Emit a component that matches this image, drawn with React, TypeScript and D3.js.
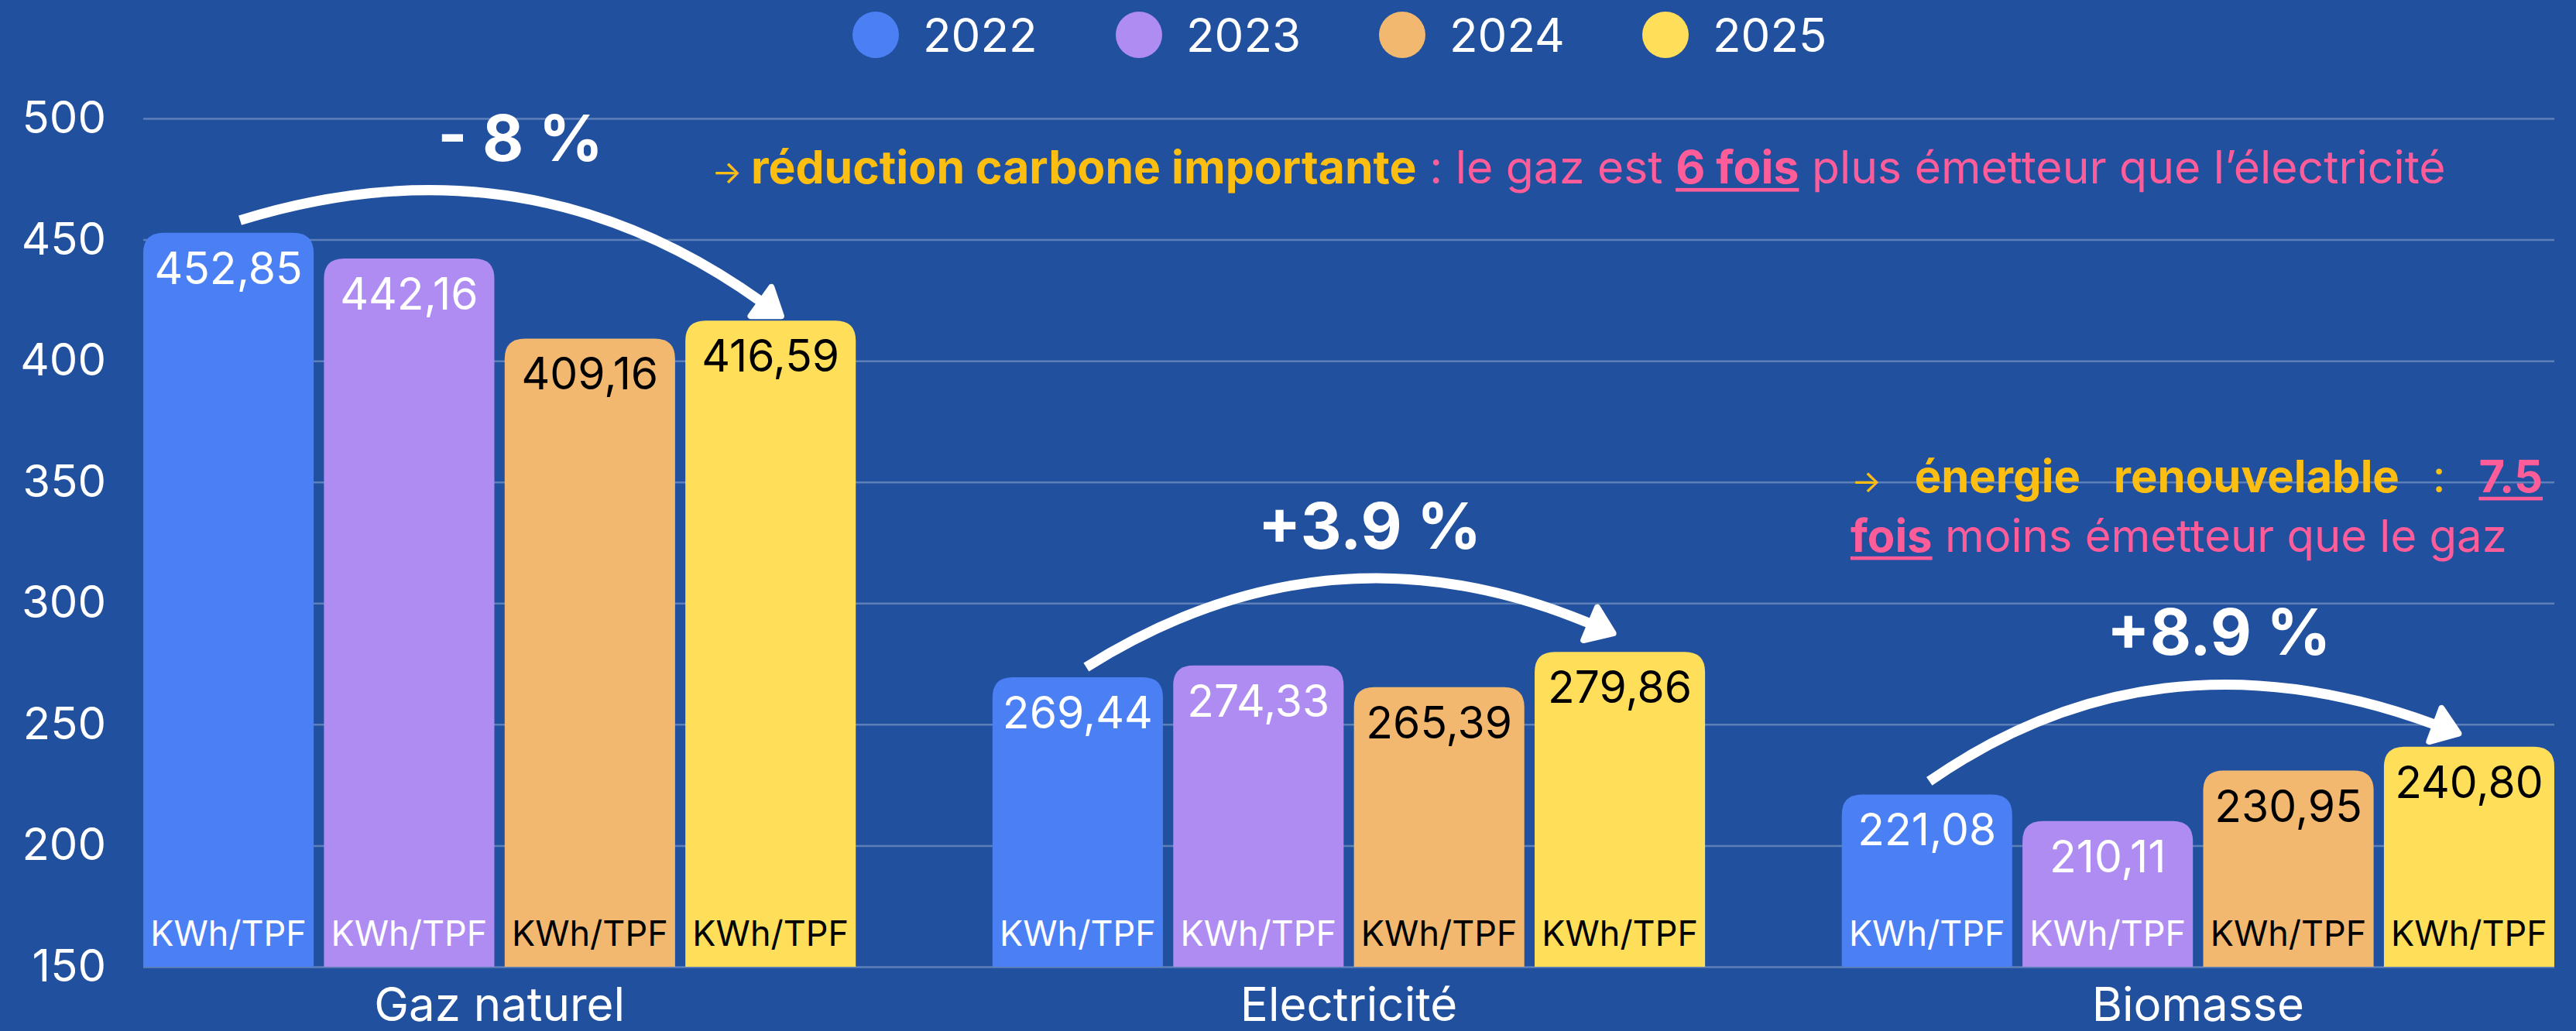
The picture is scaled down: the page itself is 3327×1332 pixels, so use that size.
import * as d3 from "d3";
import { useEffect, useRef } from "react";

const categories = ["Gaz naturel", "Electricité", "Biomasse"];
const years = ["2022", "2023", "2024", "2025"];
const values2022 = [452.85, 269.44, 221.08];
const values2023 = [442.16, 274.33, 210.11];
const values2024 = [409.16, 265.39, 230.95];
const values2025 = [416.59, 279.86, 240.8];
const yTicks = [150, 200, 250, 300, 350, 400, 450, 500];
const changeLabels = ["- 8 %", "+3.9 %", "+8.9 %"];
const unitLabel = "KWh/TPF";

const W = 3327;
const H = 1332;
const BG = "#21509F";
const COLORS = ["#4B80F5", "#AE8CF2", "#F2B86F", "#FFDE5A"];
const LABEL_FILL = ["#ffffff", "#ffffff", "#000000", "#000000"];
const YELLOW = "#FDBE12";
const PINK = "#FF5C9A";
const FONT = "Inter, 'Noto Sans', sans-serif";

// arrow placement, per category (offsets from first / last bar tops)
const arrowTailDx = [15, 11, 3];
const arrowTailDy = [-16, -13, -17];
const arrowTipDx = [13, -9, -14];
const arrowTipDy = [-5, -23, -16];
const arrowLift = [39, 115, 125];
const arrowPeakAt = [0.35, 0.55, 0.56];

type Pt = [number, number];

// control point of a quadratic curve p0 -> p2 whose top sits at (peakX, peakY)
function arcControl(p0: Pt, p2: Pt, peakY: number, peakX: number): Pt {
	const a = p0[1] - peakY;
	const b = p2[1] - peakY;
	const cy = peakY - Math.sqrt(Math.max(a * b, 0));
	const t = (p0[1] - cy) / (p0[1] + p2[1] - 2 * cy);
	const cx = (peakX - (1 - t) ** 2 * p0[0] - t * t * p2[0]) / (2 * t * (1 - t));
	return [cx, cy];
}

function unit(from: Pt, to: Pt): Pt {
	const dx = to[0] - from[0];
	const dy = to[1] - from[1];
	const n = Math.hypot(dx, dy) || 1;
	return [dx / n, dy / n];
}

function topRoundedBar(x: number, y: number, w: number, h: number, r: number) {
	const rr = Math.min(r, h, w / 2);
	return `M${x},${y + h}V${y + rr}Q${x},${y} ${x + rr},${y}H${x + w - rr}Q${x + w},${y} ${x + w},${y + rr}V${y + h}Z`;
}

export default function App() {
	const svgRef = useRef<SVGSVGElement>(null);

	useEffect(() => {
		document.body.style.margin = "0";
		if (!svgRef.current) return;
		const svg = d3.select(svgRef.current);
		svg.selectAll("*").remove();

		svg.append("rect").attr("width", W).attr("height", H).attr("fill", BG);

		const series = [values2022, values2023, values2024, values2025];

		const x0 = d3
			.scaleBand<string>()
			.domain(categories)
			.range([185, 3299])
			.paddingInner(0.161)
			.paddingOuter(0);
		const x1 = d3
			.scaleBand<string>()
			.domain(years)
			.range([0, x0.bandwidth()])
			.paddingInner(0.057);
		const y = d3.scaleLinear().domain([150, 500]).range([1249, 153]);
		const base = y(150);

		// grid + y labels
		const yAxis = svg
			.append("g")
			.attr("transform", `translate(185,0)`)
			.call(
				d3
					.axisLeft(y)
					.tickValues(yTicks)
					.tickSizeInner(-(3299 - 185))
					.tickSizeOuter(0)
					.tickPadding(48),
			);
		yAxis.select(".domain").remove();
		yAxis
			.selectAll(".tick line")
			.attr("stroke", "rgba(255,255,255,0.28)")
			.attr("stroke-width", 2.5);
		yAxis
			.selectAll(".tick text")
			.attr("fill", "#ffffff")
			.style("font-family", FONT)
			.style("font-size", "58px");

		// category labels
		const xAxis = svg
			.append("g")
			.attr("transform", `translate(0,${base})`)
			.call(d3.axisBottom(x0).tickSize(0).tickPadding(27));
		xAxis.select(".domain").remove();
		xAxis
			.selectAll(".tick text")
			.attr("fill", "#ffffff")
			.style("font-family", FONT)
			.style("font-size", "60px");

		// bars
		categories.forEach((cat, i) => {
			const g = svg.append("g").attr("transform", `translate(${x0(cat)},0)`);
			years.forEach((yr, j) => {
				const v = series[j][i];
				const bx = x1(yr) ?? 0;
				const bw = x1.bandwidth();
				const top = y(v);
				g.append("path")
					.attr("d", topRoundedBar(bx, top, bw, base - top, 26))
					.attr("fill", COLORS[j]);
				g.append("text")
					.attr("x", bx + bw / 2)
					.attr("y", top + 66)
					.attr("text-anchor", "middle")
					.attr("fill", LABEL_FILL[j])
					.style("font-family", FONT)
					.style("font-size", "57px")
					.text(d3.format(".2f")(v).replace(".", ","));
				g.append("text")
					.attr("x", bx + bw / 2)
					.attr("y", base - 27)
					.attr("text-anchor", "middle")
					.attr("fill", LABEL_FILL[j])
					.style("font-family", FONT)
					.style("font-size", "45px")
					.text(unitLabel);
			});
		});

		// curved arrows + change labels
		categories.forEach((cat, i) => {
			const gx = x0(cat) ?? 0;
			const bw = x1.bandwidth();
			const firstC = gx + (x1(years[0]) ?? 0) + bw / 2;
			const lastC = gx + (x1(years[3]) ?? 0) + bw / 2;
			const tail: Pt = [firstC + arrowTailDx[i], y(values2022[i]) + arrowTailDy[i]];
			const tip: Pt = [lastC + arrowTipDx[i], y(values2025[i]) + arrowTipDy[i]];
			const peakY = tail[1] - arrowLift[i];
			const peakX = tail[0] + arrowPeakAt[i] * (tip[0] - tail[0]);
			const L = 32;
			const hw = 23;
			const c0 = arcControl(tail, tip, peakY, peakX);
			const d0 = unit(c0, tip);
			const end: Pt = [tip[0] - L * d0[0], tip[1] - L * d0[1]];
			const c = arcControl(tail, end, peakY, peakX);
			const d = unit(c, end);
			const head: Pt = [end[0] + L * d[0], end[1] + L * d[1]];
			const perp: Pt = [-d[1], d[0]];

			svg.append("path")
				.attr("d", `M${tail[0]},${tail[1]}Q${c[0]},${c[1]} ${end[0]},${end[1]}`)
				.attr("fill", "none")
				.attr("stroke", "#ffffff")
				.attr("stroke-width", 13);
			svg.append("path")
				.attr(
					"d",
					`M${end[0] + hw * perp[0]},${end[1] + hw * perp[1]}L${head[0]},${head[1]}L${end[0] - hw * perp[0]},${end[1] - hw * perp[1]}Z`,
				)
				.attr("fill", "#ffffff")
				.attr("stroke", "#ffffff")
				.attr("stroke-width", 8)
				.attr("stroke-linejoin", "round");

			svg.append("text")
				.attr("x", gx + x0.bandwidth() / 2 + 27)
				.attr("y", peakY - 38)
				.attr("text-anchor", "middle")
				.attr("fill", "#ffffff")
				.style("font-family", FONT)
				.style("font-size", "82px")
				.style("font-weight", 700)
				.text(changeLabels[i]);
		});

		// legend
		const legend = svg.append("g");
		years.forEach((yr, j) => {
			const cx = 1131 + j * 340;
			legend.append("circle").attr("cx", cx).attr("cy", 45).attr("r", 30).attr("fill", COLORS[j]);
			legend
				.append("text")
				.attr("x", cx + 61)
				.attr("y", 67)
				.attr("fill", "#ffffff")
				.style("font-family", FONT)
				.style("font-size", "60px")
				.text(yr);
		});

		type Part = { t: string; fill: string; w: number; u?: boolean; small?: boolean };

		const underline = (node: SVGTSpanElement | SVGTextElement, yBase: number, fs: number, fill: string) => {
			const sx = node.getStartPositionOfChar(0).x;
			const w = node.getComputedTextLength();
			svg.append("rect")
				.attr("x", sx)
				.attr("y", yBase + fs * 0.1)
				.attr("width", w)
				.attr("height", fs * 0.08)
				.attr("fill", fill);
		};

		const addParts = (x: number, yb: number, fs: number, parts: Part[]) => {
			const t = svg
				.append("text")
				.attr("x", x)
				.attr("y", yb)
				.style("font-family", FONT)
				.style("font-size", `${fs}px`)
				.style("white-space", "pre");
			const spans = parts.map((p) =>
				t
					.append("tspan")
					.attr("fill", p.fill)
					.style("font-weight", p.w)
					.style("font-size", p.small ? "0.7em" : null)
					.text(p.t),
			);
			return { t, spans };
		};

		// note 1 – one line, fitted to its width
		const note1Parts: Part[] = [
			{ t: "→ ", fill: YELLOW, w: 400, small: true },
			{ t: "réduction carbone importante", fill: YELLOW, w: 700 },
			{ t: " : le gaz est ", fill: PINK, w: 400 },
			{ t: "6 fois", fill: PINK, w: 700, u: true },
			{ t: " plus émetteur que l’électricité", fill: PINK, w: 400 },
		];
		const n1 = addParts(919, 237, 57, note1Parts);
		const len1 = (n1.t.node() as SVGTextElement).getComputedTextLength();
		const fs1 = Math.min(60, (57 * (3159 - 919)) / len1);
		n1.t.style("font-size", `${fs1}px`);
		note1Parts.forEach((p, k) => {
			if (p.u) underline(n1.spans[k].node() as SVGTSpanElement, 237, fs1, p.fill);
		});

		// note 2 – second line sets the size, first line is justified
		const line2Parts: Part[] = [
			{ t: "fois", fill: PINK, w: 700, u: true },
			{ t: " moins émetteur que le gaz", fill: PINK, w: 400 },
		];
		const n2 = addParts(2390, 713, 55, line2Parts);
		const len2 = (n2.t.node() as SVGTextElement).getComputedTextLength();
		const fs2 = Math.min(58, (55 * (3256 - 2390)) / len2);
		n2.t.style("font-size", `${fs2}px`);
		underline(n2.spans[0].node() as SVGTSpanElement, 713, fs2, PINK);

		const line1Words: Part[] = [
			{ t: "→", fill: YELLOW, w: 400, small: true },
			{ t: "énergie", fill: YELLOW, w: 700 },
			{ t: "renouvelable", fill: YELLOW, w: 700 },
			{ t: ":", fill: YELLOW, w: 400 },
			{ t: "7.5", fill: PINK, w: 700, u: true },
		];
		const wordNodes = line1Words.map((p) =>
			svg
				.append("text")
				.attr("y", 636)
				.attr("fill", p.fill)
				.style("font-family", FONT)
				.style("font-size", `${p.small ? fs2 * 0.7 : fs2}px`)
				.style("font-weight", p.w)
				.text(p.t),
		);
		const widths = wordNodes.map((n) => (n.node() as SVGTextElement).getComputedTextLength());
		const gap = (3284 - 2391 - d3.sum(widths)) / (line1Words.length - 1);
		let cursor = 2391;
		wordNodes.forEach((n, k) => {
			n.attr("x", cursor);
			if (line1Words[k].u) {
				svg.append("rect")
					.attr("x", cursor)
					.attr("y", 636 + fs2 * 0.1)
					.attr("width", widths[k])
					.attr("height", fs2 * 0.08)
					.attr("fill", line1Words[k].fill);
			}
			cursor += widths[k] + gap;
		});
	}, []);

	return <svg ref={svgRef} width={W} height={H} style={{ display: "block" }} />;
}
